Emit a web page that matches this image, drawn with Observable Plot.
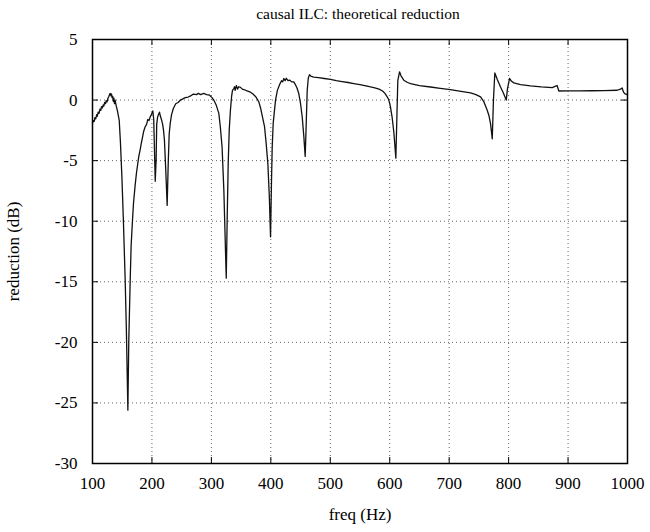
<!DOCTYPE html>
<html>
<head>
<meta charset="utf-8">
<script src="https://cdn.jsdelivr.net/npm/d3@7"></script>
<script src="https://cdn.jsdelivr.net/npm/@observablehq/plot@0.6"></script>
<style>
  html, body { margin: 0; padding: 0; background: #fff; }
  #title { height: 26px; line-height: 28px; text-align: center; font-family: "Liberation Serif", "DejaVu Serif", serif; font-size: 15.5px; color: #000; padding-left: 66px; box-sizing: border-box; width: 650px; }
</style>
</head>
<body>
<div id="title">causal ILC: theoretical reduction</div>
<div id="chart"></div>
<script>
const freq = [100,101.5,103,104,105.5,107,108,109.5,111,112.5,114,115,116.5,118,119,120.5,122,123,124.5,126,127.5,129,130,131,132,133,134,135,136,137,138,140,142,145,147,149.5,152,155,157,159.5,161,163.4,165,167.3,169,171.8,174,176,178,180,182,184,186,188.6,191,193,195,197,199,201.5,203,205.5,207,208,209.5,211,212.7,214,216,218,219.5,221,223,225.6,227.5,229,230.7,233,236,240,244,248,252,256,261,265,270,275,278,282,287,292,297,301,304,308,312.5,315,318,321,325,326.5,328.3,330,332,334,335.5,337.7,339,340,342,344,346,349,352,356,360,365.8,370,375,379.8,383,386,389.4,392,395,397.5,399.5,401,402.3,404,407.9,411,415,418,420,421.9,424,426,429,432,435,438.7,441,444,447,450,452.8,455.5,457.8,459.5,461.2,463,465,468,472.3,480,490,500.4,510,520,530,539.6,550,560,567.7,575,582,588,592,596,598.5,601,604,607,610.3,612,613.6,616.5,619,623.7,630,635,650,668.6,685,702,720,736,745,752.8,758,764,767,769.6,772.5,774.5,776.8,781,786.4,791,796,798,801.5,805,808.8,820,836.9,855,873.4,879,881.5,884.5,900,920,940,960,982.7,988,991,993,995,1000];
const reduction = [-1.9,-1.7,-1.75,-1.45,-1.55,-1.2,-1.35,-1.0,-1.1,-0.75,-0.85,-0.55,-0.65,-0.4,-0.5,-0.2,-0.3,-0.05,-0.15,0.15,0.3,0.5,0.55,0.35,0.5,0.2,0.3,-0.1,0.15,-0.3,0.0,-0.5,-0.9,-1.7,-3.5,-6.4,-10,-14.9,-19,-25.6,-20,-14.9,-12,-9.9,-8.5,-7.0,-6.0,-5.3,-4.6,-4.15,-3.6,-3.1,-2.6,-2.2,-2.0,-1.6,-1.7,-1.4,-1.2,-0.9,-1.6,-6.7,-5.0,-2.0,-1.4,-1.2,-1.0,-1.3,-1.6,-2.0,-2.5,-3.3,-5.5,-8.7,-5.0,-2.8,-1.95,-1.2,-0.7,-0.3,-0.2,0.0,0.1,0.2,0.25,0.35,0.5,0.45,0.55,0.45,0.55,0.45,0.4,0.2,0.0,-0.4,-1.1,-2.2,-3.9,-7.5,-14.7,-10,-5.2,-2.5,-0.85,0.3,0.8,0.95,1.1,0.8,1.2,0.9,1.1,1.05,0.9,0.85,0.75,0.65,0.5,0.25,-0.15,-0.7,-1.4,-2.2,-3.5,-5.25,-8.0,-11.3,-7,-3.9,-1.9,0.0,0.8,1.3,1.6,1.5,1.78,1.6,1.8,1.6,1.65,1.5,1.5,1.3,1.0,0.54,-0.3,-1.4,-3.0,-4.65,-2.0,0.8,1.8,2.1,1.95,1.9,1.85,1.78,1.7,1.6,1.52,1.45,1.36,1.27,1.18,1.08,1.0,0.9,0.75,0.55,0.25,0.0,-0.5,-1.4,-2.7,-4.8,-1.5,1.6,2.33,2.0,1.64,1.45,1.36,1.2,1.08,0.97,0.86,0.72,0.59,0.45,0.26,-0.1,-0.84,-1.3,-1.95,-3.2,0.0,2.24,1.7,1.08,0.6,0.0,0.9,1.78,1.55,1.42,1.28,1.17,1.09,1.03,1.15,1.2,0.75,0.76,0.76,0.77,0.78,0.81,0.9,1.0,0.7,0.54,0.45];
const xTicks = [100,200,300,400,500,600,700,800,900,1000];
const yTicks = [5,0,-5,-10,-15,-20,-25,-30];
const xGrid = [200,300,400,500,600,700,800,900];
const yGrid = [0,-5,-10,-15,-20,-25];

const data = freq.map((f, i) => ({f, v: reduction[i]}));

const W = 650, H = 506;
const mL = 92, mR = 23, mT = 13, mB = 69;
const innerW = W - mL - mR, innerH = H - mT - mB;
const tk = 6;
const fmt = d => String(d);

const chart = Plot.plot({
  width: W, height: H,
  marginLeft: mL, marginRight: mR, marginTop: mT, marginBottom: mB,
  style: {fontFamily: "'Liberation Serif', 'DejaVu Serif', serif", fontSize: "17px", color: "#000", background: "#fff", overflow: "visible"},
  x: {domain: [100, 1000]},
  y: {domain: [-30, 5]},
  marks: [
    Plot.ruleX(xGrid, {x: d => d, stroke: "#666", strokeWidth: 1, strokeDasharray: "1,3"}),
    Plot.ruleY(yGrid, {y: d => d, stroke: "#666", strokeWidth: 1, strokeDasharray: "1,3"}),
    Plot.tickX(xTicks, {x: d => d, insetTop: innerH - tk, stroke: "#000", strokeWidth: 1}),
    Plot.tickX(xTicks, {x: d => d, insetBottom: innerH - tk, stroke: "#000", strokeWidth: 1}),
    Plot.tickY(yTicks, {y: d => d, insetRight: innerW - tk, stroke: "#000", strokeWidth: 1}),
    Plot.tickY(yTicks, {y: d => d, insetLeft: innerW - tk, stroke: "#000", strokeWidth: 1}),
    Plot.line(data, {x: "f", y: "v", stroke: "#111", strokeWidth: 1.3}),
    Plot.frame({stroke: "#000", strokeWidth: 1.5}),
    Plot.axisX(xTicks, {tickSize: 0, tickPadding: 13, tickFormat: fmt, label: "freq (Hz)", labelAnchor: "center", labelArrow: "none", labelOffset: 56, fontSize: 17}),
    Plot.axisY(yTicks, {tickSize: 0, tickPadding: 15, tickFormat: fmt, label: "reduction (dB)", labelAnchor: "center", labelArrow: "none", labelOffset: 86, fontSize: 17})
  ]
});
document.getElementById("chart").appendChild(chart);
</script>
</body>
</html>
